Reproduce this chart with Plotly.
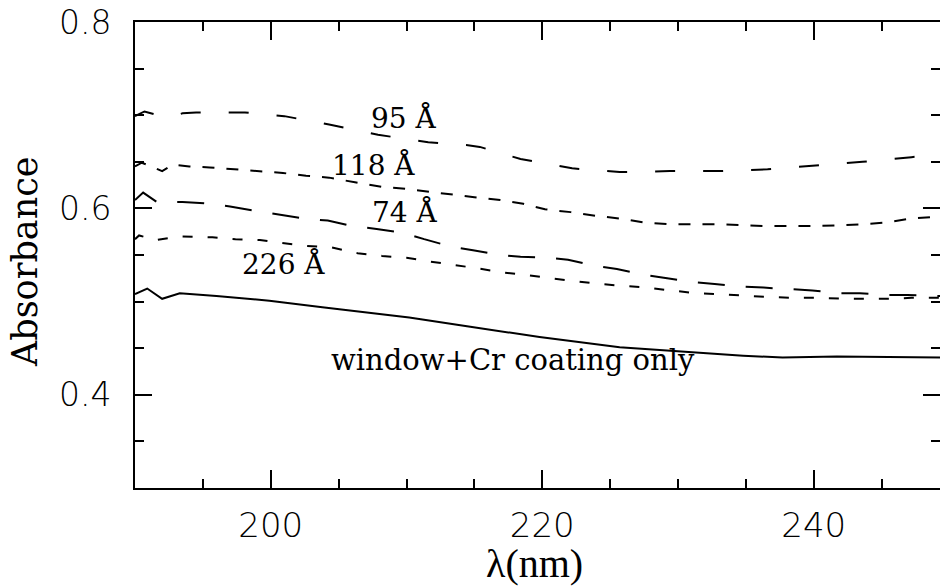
import plotly.graph_objects as go

# ---- data ----
wl_cr = [190.0, 190.9, 192.0, 193.3, 196.0, 199.9, 203.8, 210.2, 214.7, 217.1, 219.8,
         225.7, 231.6, 234.8, 237.7, 241.7, 250.0]
abs_cr = [0.508, 0.514, 0.503, 0.509, 0.506, 0.501, 0.494, 0.483, 0.473, 0.468, 0.462,
          0.451, 0.445, 0.442, 0.440, 0.441, 0.440]

wl_95 = [190.0, 190.7, 191.7, 192.6, 193.5, 194.5, 198.1, 201.0, 204.3, 207.9, 211.6,
         214.4, 215.4, 218.4, 222.2, 225.7, 229.4, 233.1, 236.6, 240.1, 243.6, 247.2, 250.0]
abs_95 = [0.699, 0.704, 0.700, 0.698, 0.702, 0.703, 0.703, 0.699, 0.690, 0.679, 0.671,
          0.668, 0.666, 0.653, 0.643, 0.639, 0.640, 0.640, 0.642, 0.646, 0.650, 0.655, 0.659]

wl_118 = [190.0, 190.5, 191.2, 192.0, 192.8, 194.0, 195.5, 197.5, 199.2, 200.9, 202.6,
          204.3, 206.2, 208.2, 209.9, 213.6, 215.0, 216.9, 218.6, 220.2, 222.1, 224.0,
          225.8, 227.4, 229.3, 231.1, 232.9, 234.9, 236.5, 238.4, 240.1, 242.0, 243.6,
          245.4, 247.1, 248.9, 250.0]
abs_118 = [0.645, 0.649, 0.645, 0.640, 0.647, 0.645, 0.644, 0.642, 0.640, 0.638, 0.635,
           0.633, 0.628, 0.623, 0.621, 0.614, 0.612, 0.609, 0.605, 0.599, 0.596, 0.592,
           0.589, 0.585, 0.583, 0.583, 0.583, 0.582, 0.581, 0.581, 0.581, 0.582, 0.583,
           0.585, 0.589, 0.591, 0.593]

wl_74 = [190.0, 190.6, 191.6, 193.5, 195.5, 197.0, 199.0, 200.7, 202.5, 204.2, 206.0,
         207.8, 209.7, 211.3, 213.3, 214.9, 216.9, 218.4, 220.6, 221.9, 224.0, 225.5,
         227.4, 229.2, 231.1, 232.7, 234.8, 236.3, 238.4, 239.9, 241.9, 243.4, 245.5,
         246.9, 249.1, 250.0]
abs_74 = [0.609, 0.617, 0.607, 0.607, 0.605, 0.602, 0.597, 0.593, 0.589, 0.587, 0.581,
          0.578, 0.574, 0.567, 0.559, 0.555, 0.550, 0.548, 0.547, 0.545, 0.538, 0.535,
          0.529, 0.525, 0.521, 0.519, 0.516, 0.515, 0.513, 0.512, 0.509, 0.509, 0.507,
          0.507, 0.506, 0.506]

wl_226 = [190.0, 190.3, 191.5, 193.3, 195.7, 197.4, 199.2, 200.8, 202.4, 204.5, 206.4,
          208.2, 210.0, 211.7, 213.7, 215.1, 217.2, 218.6, 220.6, 222.2, 224.2, 225.8,
          227.8, 229.4, 231.4, 233.0, 235.0, 236.5, 238.7, 240.2, 242.3, 243.7, 245.7,
          247.2, 249.1, 250.0]
abs_226 = [0.567, 0.571, 0.566, 0.570, 0.569, 0.567, 0.566, 0.563, 0.560, 0.558, 0.552,
           0.549, 0.547, 0.543, 0.539, 0.536, 0.531, 0.529, 0.525, 0.522, 0.519, 0.517,
           0.515, 0.512, 0.509, 0.508, 0.506, 0.505, 0.504, 0.504, 0.503, 0.503, 0.503,
           0.504, 0.504, 0.504]

label_text = ["95 Å", "118 Å", "74 Å", "226 Å", "window+Cr coating only"]
label_x = [209.85, 207.6, 209.9, 200.96, 217.87]
label_y = [0.696, 0.646, 0.596, 0.540, 0.4375]

x_range = [190, 249.3]
y_range = [0.3, 0.8]

# ---- figure ----
series = [
    (wl_cr, abs_cr, "solid"),
    (wl_95, abs_95, "20px,28px"),
    (wl_118, abs_118, "12px,12px"),
    (wl_74, abs_74, "27px,21px"),
    (wl_226, abs_226, "10px,15px"),
]

fig = go.Figure()
for xs, ys, dash in series:
    fig.add_trace(go.Scatter(x=xs, y=ys, mode="lines",
                             line=dict(color="black", width=2, dash=dash),
                             hoverinfo="skip"))

serif = "DejaVu Serif, serif"
for t, lx, ly in zip(label_text, label_x, label_y):
    fig.add_annotation(x=lx, y=ly, xref="x", yref="y", text=t, showarrow=False,
                       xanchor="center", yanchor="middle",
                       font=dict(family=serif, size=28 if len(t) < 8 else 29, color="black"))

fig.add_annotation(x=-0.1366, y=0.485, xref="paper", yref="paper", text="Absorbance",
                   textangle=-90, showarrow=False, xanchor="center", yanchor="middle",
                   font=dict(family=serif, size=35, color="black"))
fig.add_annotation(x=0.4957, y=-0.161, xref="paper", yref="paper", text="λ(nm)",
                   showarrow=False, xanchor="center", yanchor="middle",
                   font=dict(family="Liberation Serif, Times New Roman, serif",
                             size=40, color="black"))

tickfont = dict(family="DejaVu Sans, sans-serif", color="black", weight=200)

fig.update_xaxes(range=x_range, tick0=0, dtick=20, ticks="inside", ticklen=18,
                 tickwidth=2, tickcolor="black", automargin=False,
                 minor=dict(tick0=0, dtick=5, ticks="inside", ticklen=9, tickwidth=2,
                            tickcolor="black", showgrid=False),
                 showgrid=False, zeroline=False, showline=True, linewidth=2,
                 linecolor="black", mirror="ticks", ticklabelstandoff=6,
                 tickfont=dict(size=34, **tickfont))
fig.update_yaxes(range=y_range, tick0=0, dtick=0.2, tickformat=".1f", ticks="inside",
                 ticklen=17, tickwidth=2, tickcolor="black", automargin=False,
                 minor=dict(tick0=0, dtick=0.05, ticks="inside", ticklen=9, tickwidth=2,
                            tickcolor="black", showgrid=False),
                 showgrid=False, zeroline=False, showline=True, linewidth=2,
                 linecolor="black", mirror="ticks", ticklabelstandoff=15,
                 tickfont=dict(size=33, **tickfont))

fig.update_layout(width=940, height=587, margin=dict(l=135, r=0, t=22, b=99, autoexpand=False),
                  paper_bgcolor="white", plot_bgcolor="white", showlegend=False)

fig.write_html("out.html", config={"displayModeBar": False},
               post_script="document.body.style.margin='0';document.body.style.overflow='hidden';")
